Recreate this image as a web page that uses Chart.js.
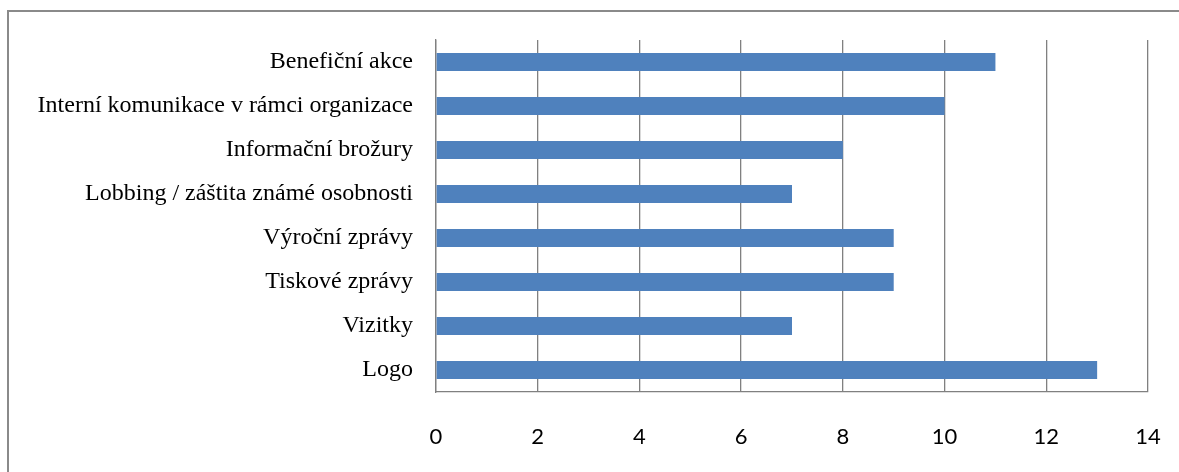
<!DOCTYPE html>
<html>
<head>
<meta charset="utf-8">
<script src="https://cdn.jsdelivr.net/npm/chart.js@4/dist/chart.umd.min.js"></script>
<style>
  html, body { margin: 0; padding: 0; background: #fff; overflow: hidden; }
  #frame {
    position: absolute; left: 7px; top: 10px;
    width: 1400px; height: 700px;
    border: 2px solid #8a8a8a;
  }
  #wrap { position: absolute; left: 0; top: 0; width: 1179px; height: 472px; }
</style>
</head>
<body>
<div id="frame"></div>
<div id="wrap"><canvas id="chart" width="1179" height="472"></canvas></div>
<script>
// categories top to bottom, with their counts
const categories = [
  'Benefiční akce',
  'Interní komunikace v rámci organizace',
  'Informační brožury',
  'Lobbing / záštita známé osobnosti',
  'Výroční zprávy',
  'Tiskové zprávy',
  'Vizitky',
  'Logo'
];
const counts = [11, 10, 8, 7, 9, 9, 7, 13];
const xMin = 0;
const xMax = 14;
const xStep = 2;

const gridColor = '#808080';

const ctx = document.getElementById('chart').getContext('2d');
new Chart(ctx, {
  type: 'bar',
  data: {
    labels: categories,
    datasets: [{
      data: counts,
      backgroundColor: '#4f81bd',
      borderWidth: 0,
      categoryPercentage: 1,
      barPercentage: 0.41
    }]
  },
  options: {
    indexAxis: 'y',
    responsive: false,
    animation: false,
    layout: { padding: { top: 40, right: 31, left: 0, bottom: 0 } },
    plugins: { legend: { display: false }, tooltip: { enabled: false } },
    scales: {
      x: {
        min: xMin,
        max: xMax,
        ticks: {
          stepSize: xStep,
          padding: 32,
          color: '#000',
          font: { family: 'Lato', size: 22 }
        },
        grid: { color: gridColor, lineWidth: 1.3, drawTicks: false },
        border: { color: gridColor, width: 1.3 },
        afterFit: s => {
          s.height = 80;
          s.paddingLeft = 0;
          s.paddingRight = 0;
        }
      },
      y: {
        ticks: {
          padding: 23,
          color: '#000',
          font: { family: 'Liberation Serif', size: 24 }
        },
        grid: { display: false, drawTicks: false },
        border: { color: gridColor, width: 1.3 },
        afterFit: s => { s.width = 436; }
      }
    }
  }
});
</script>
</body>
</html>
